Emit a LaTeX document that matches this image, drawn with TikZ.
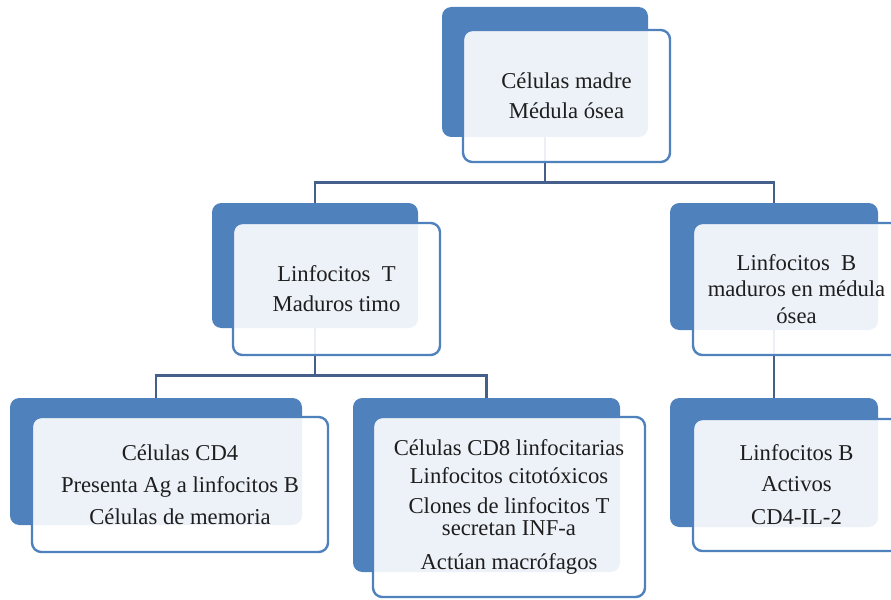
\documentclass[tikz,border=0pt]{standalone}
\usepackage{fontspec}
\setmainfont{Liberation Serif}
\usepackage{tikz}
\usetikzlibrary{shapes}
\definecolor{cardblue}{RGB}{79,129,189}
\definecolor{linkblue}{RGB}{68,95,138}
\definecolor{inkgray}{RGB}{30,30,30}
\tikzstyle{card}=[rectangle, rounded corners=7pt, inner sep=2pt]
\tikzstyle{back}=[card, fill=cardblue]
\tikzstyle{front}=[card, draw=cardblue, line width=1.8pt, fill=white, fill opacity=.9, text opacity=1, text=inkgray, align=center, font=\fontsize{17}{20}\selectfont]
\tikzstyle{link}=[draw=linkblue, line width=2.2pt]

\begin{document}
\begin{tikzpicture}[x=.75pt, y=-.75pt]
	\useasboundingbox (0,0) rectangle (891,599);
	\clip (0,0) rectangle (891,599);
	\node[back, minimum width=154.5pt, minimum height=97.5pt] (madreB) at (545,72) {};
	\node[back, minimum width=154.5pt, minimum height=93.75pt] (linfTB) at (315,265.5) {};
	\node[back, minimum width=156pt, minimum height=95.25pt] (linfBB) at (774,266.5) {};
	\node[back, minimum width=219pt, minimum height=95.25pt] (cdcuatroB) at (156,461.5) {};
	\node[back, minimum width=200.25pt, minimum height=130.5pt] (cdochoB) at (486.5,485) {};
	\node[back, minimum width=156pt, minimum height=96.75pt] (activosB) at (774,462.5) {};
	\draw[link] (madreB.south) -- ++(0,45) -| (linfTB.north);
	\draw[link] (madreB.south) -- ++(0,45) -| (linfBB.north);
	\draw[link] (linfTB.south) -- ++(0,47) -| (cdcuatroB.north);
	\draw[link] (linfTB.south) -- ++(0,47) -| (cdochoB.north);
	\draw[link] (linfBB.south) -- (activosB.north);
	\node[front, minimum width=155.25pt, minimum height=99pt] (madre) at (566.5,96)
		{C\'elulas madre\\[2.5pt]M\'edula \'osea};
	\node[front, minimum width=155.25pt, minimum height=99pt] (linfT) at (336.5,289)
		{Linfocitos \ T\\[2.5pt]Maduros timo};
	\node[front, minimum width=155.25pt, minimum height=99pt] (linfB) at (796.5,289)
		{Linfocitos \ B\\maduros en m\'edula\\\'osea};
	\node[front, minimum width=222pt, minimum height=101.25pt] (cdcuatro) at (180,484.5)
		{C\'elulas CD4\\[4pt]Presenta Ag a linfocitos B\\[4pt]C\'elulas de memoria};
	\node[front, minimum width=204pt, minimum height=135pt] (cdocho) at (509,507)
		{C\'elulas CD8 linfocitarias\\[1pt]Linfocitos citot\'oxicos\\[3pt]Clones de linfocitos T\\[-4pt]secretan INF-a\\[6pt]Act\'uan macr\'ofagos};
	\node[front, minimum width=155.25pt, minimum height=99pt] (activos) at (796.5,485)
		{Linfocitos B\\[3pt]Activos\\[5pt]CD4-IL-2};
\end{tikzpicture}
\end{document}
